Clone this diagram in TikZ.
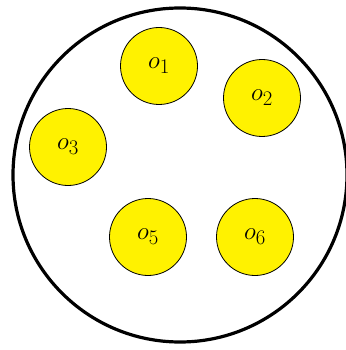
\documentclass[tikz,border=0pt]{standalone}
\begin{document}
\begin{tikzpicture}[x=1pt,y=-1pt,
  ball/.style={circle,draw=black,line width=0.8pt,fill=yellow,minimum size=77pt,inner sep=0pt,font=\fontsize{30}{36}\selectfont},
  outer/.style={draw=black,line width=3.2pt}]
\useasboundingbox (0,0) rectangle (345,350);
\node[circle,outer,minimum size=334pt,inner sep=0pt] (big) at (180,175) {};
\node[ball] (o1) at (159,66) {$o_1$};
\node[ball] (o2) at (262,98) {$o_2$};
\node[ball] (o3) at (68,147) {$o_3$};
\node[ball] (o5) at (148,237) {$o_5$};
\node[ball] (o6) at (255,237) {$o_6$};
\end{tikzpicture}
\end{document}
